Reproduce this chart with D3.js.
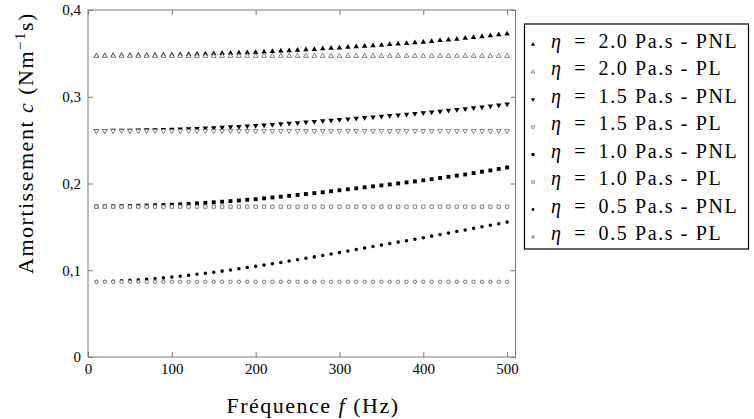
<!DOCTYPE html>
<html>
<head>
<meta charset="utf-8">
<script src="https://cdn.jsdelivr.net/npm/d3@7"></script>
<style>
  html, body { margin: 0; padding: 0; background: #fff; }
  svg { display: block; }
  text { font-family: "Liberation Serif", "DejaVu Serif", serif; fill: #000; }
</style>
</head>
<body>
<svg id="chart" width="754" height="419"></svg>
<script>
// ---------- data ----------
const freqs = [10,20,30,40,50,60,70,80,90,100,110,120,130,140,150,160,170,180,190,200,
  210,220,230,240,250,260,270,280,290,300,310,320,330,340,350,360,370,380,390,400,
  410,420,430,440,450,460,470,480,490,500];

const pnl20 = [0.3475,0.3475,0.3476,0.3477,0.3477,0.3478,0.3479,0.3480,0.3482,0.3483,
  0.3485,0.3488,0.3490,0.3493,0.3496,0.3499,0.3502,0.3505,0.3509,0.3512,
  0.3517,0.3522,0.3527,0.3532,0.3537,0.3542,0.3547,0.3553,0.3559,0.3564,
  0.3571,0.3577,0.3583,0.3590,0.3596,0.3603,0.3609,0.3616,0.3623,0.3630,
  0.3639,0.3648,0.3656,0.3665,0.3675,0.3684,0.3694,0.3704,0.3715,0.3725];

const pnl15 = [0.2610,0.2611,0.2612,0.2613,0.2614,0.2616,0.2618,0.2619,0.2621,0.2623,
  0.2627,0.2630,0.2634,0.2639,0.2643,0.2648,0.2652,0.2657,0.2662,0.2667,
  0.2673,0.2680,0.2687,0.2694,0.2700,0.2707,0.2714,0.2721,0.2729,0.2737,
  0.2744,0.2752,0.2759,0.2767,0.2775,0.2782,0.2790,0.2798,0.2806,0.2814,
  0.2824,0.2833,0.2842,0.2851,0.2860,0.2871,0.2881,0.2892,0.2903,0.2915];

const pnl10 = [0.1735,0.1736,0.1737,0.1739,0.1741,0.1744,0.1746,0.1749,0.1752,0.1755,
  0.1760,0.1765,0.1771,0.1777,0.1784,0.1790,0.1797,0.1804,0.1812,0.1819,
  0.1829,0.1839,0.1848,0.1858,0.1868,0.1879,0.1889,0.1899,0.1911,0.1922,
  0.1933,0.1944,0.1956,0.1967,0.1978,0.1989,0.2001,0.2013,0.2024,0.2037,
  0.2050,0.2064,0.2077,0.2091,0.2104,0.2120,0.2136,0.2151,0.2168,0.2185];

const pnl05 = [0.0869,0.0871,0.0874,0.0878,0.0883,0.0889,0.0896,0.0904,0.0912,0.0921,
  0.0931,0.0942,0.0953,0.0965,0.0977,0.0990,0.1003,0.1017,0.1031,0.1045,
  0.1060,0.1075,0.1090,0.1106,0.1122,0.1138,0.1154,0.1171,0.1188,0.1205,
  0.1222,0.1239,0.1256,0.1273,0.1290,0.1307,0.1324,0.1341,0.1358,0.1375,
  0.1393,0.1411,0.1429,0.1447,0.1465,0.1483,0.1501,0.1519,0.1537,0.1555];

// linear-model (PL) values: constant over frequency
const pl20 = freqs.map(() => 0.3470);
const pl15 = freqs.map(() => 0.2607);
const pl10 = freqs.map(() => 0.1733);
const pl05 = freqs.map(() => 0.0867);

const xTicks = [0, 100, 200, 300, 400, 500];
const yTicks = [0, 0.1, 0.2, 0.3, 0.4];
const yTickLabels = ["0", "0,1", "0,2", "0,3", "0,4"];

const seriesNames = ["2.0 Pa.s - PNL", "2.0 Pa.s - PL", "1.5 Pa.s - PNL", "1.5 Pa.s - PL",
                     "1.0 Pa.s - PNL", "1.0 Pa.s - PL", "0.5 Pa.s - PNL", "0.5 Pa.s - PL"];
const seriesValues = [pnl20, pl20, pnl15, pl15, pnl10, pl10, pnl05, pl05];

// ---------- styles ----------
const markerStyle = [
  {type: d3.symbolTriangle, size: 13, rot: 0,   fill: "#000", stroke: "none"},
  {type: d3.symbolTriangle, size: 10, rot: 0,   fill: "#fff", stroke: "#666"},
  {type: d3.symbolTriangle, size: 13, rot: 180, fill: "#000", stroke: "none"},
  {type: d3.symbolTriangle, size: 10, rot: 180, fill: "#fff", stroke: "#666"},
  {type: d3.symbolSquare,   size: 15, rot: 0,   fill: "#000", stroke: "none"},
  {type: d3.symbolSquare,   size: 11, rot: 0,   fill: "#fff", stroke: "#666"},
  {type: d3.symbolCircle,   size: 10, rot: 0,   fill: "#000", stroke: "none"},
  {type: d3.symbolCircle,   size: 9,  rot: 0,   fill: "#fff", stroke: "#555"}
];

const svg = d3.select("#chart");
const L = 88, R = 515.5, T = 10, B = 357;
const x = d3.scaleLinear().domain([0, 510]).range([L, R]);
const y = d3.scaleLinear().domain([0, 0.4]).range([B, T]);
const axisColor = "#7a7a7a";

// axes (ticks inward on all four sides)
const gx = svg.append("g").attr("transform", `translate(0,${B})`)
  .call(d3.axisTop(x).tickValues(xTicks).tickSize(5).tickFormat(""));
const gxl = svg.append("g").attr("transform", `translate(0,${B})`)
  .call(d3.axisBottom(x).tickValues(xTicks).tickSize(0).tickPadding(6).tickFormat(d3.format("d")));
const gxt = svg.append("g").attr("transform", `translate(0,${T})`)
  .call(d3.axisBottom(x).tickValues(xTicks).tickSize(5).tickFormat(""));
const gy = svg.append("g").attr("transform", `translate(${L},0)`)
  .call(d3.axisRight(y).tickValues(yTicks).tickSize(5).tickFormat(""));
const gyl = svg.append("g").attr("transform", `translate(${L},0)`)
  .call(d3.axisLeft(y).tickValues(yTicks).tickSize(0).tickPadding(7).tickFormat((d, i) => yTickLabels[i]));
const gyr = svg.append("g").attr("transform", `translate(${R},0)`)
  .call(d3.axisLeft(y).tickValues(yTicks).tickSize(5).tickFormat(""));

[gx, gxl, gxt, gy, gyl, gyr].forEach(g => {
  g.select(".domain").remove();
  g.selectAll("line").attr("stroke", axisColor);
  g.selectAll("text").style("font-family", "Liberation Serif").style("font-size", "15px").attr("fill", "#000");
});

// frame
svg.append("rect").attr("x", L).attr("y", T).attr("width", R - L).attr("height", B - T)
  .attr("fill", "none").attr("stroke", axisColor).attr("stroke-width", 1);

// markers
const plotG = svg.append("g");
seriesValues.forEach((vals, si) => {
  const st = markerStyle[si];
  const sym = d3.symbol().type(st.type).size(st.size);
  plotG.append("g").selectAll("path").data(vals).join("path")
    .attr("d", sym)
    .attr("transform", (d, i) => `translate(${x(freqs[i])},${y(d)}) rotate(${st.rot})`)
    .attr("fill", st.fill)
    .attr("stroke", st.stroke)
    .attr("stroke-width", 0.8);
});

// axis titles
const xt = svg.append("text").attr("x", 313).attr("y", 413).attr("text-anchor", "middle")
  .style("font-size", "22px").style("letter-spacing", "1.5px");
xt.append("tspan").text("Fréquence ");
xt.append("tspan").style("font-style", "italic").text("f");
xt.append("tspan").text(" (Hz)");

const yt = svg.append("text").attr("transform", "translate(33,143) rotate(-90)")
  .attr("text-anchor", "middle").style("font-size", "22px").style("letter-spacing", "1.5px");
yt.append("tspan").text("Amortissement ");
yt.append("tspan").style("font-style", "italic").text("c");
yt.append("tspan").text(" (Nm");
yt.append("tspan").attr("dy", -8).style("font-size", "15px").text("−1");
yt.append("tspan").attr("dy", 8).text("s)");

// legend
const lg = svg.append("g");
lg.append("rect").attr("x", 524.5).attr("y", 24).attr("width", 224).attr("height", 225)
  .attr("fill", "#fff").attr("stroke", "#000").attr("stroke-width", 1.2);
const legendScale = d3.scalePoint().domain(seriesNames).range([44.5, 237]);
seriesNames.forEach((name, si) => {
  const st = markerStyle[si];
  const cy = legendScale(name);
  lg.append("path")
    .attr("d", d3.symbol().type(st.type).size(st.size * 0.6)())
    .attr("transform", `translate(533,${cy}) rotate(${st.rot})`)
    .attr("fill", st.fill).attr("stroke", st.stroke).attr("stroke-width", 0.7);
  const t = lg.append("text").attr("x", 551).attr("y", cy + 3).style("font-size", "20px")
    .style("letter-spacing", "1.6px");
  t.append("tspan").style("font-style", "italic").text("η");
  t.append("tspan").text("\u2002=\u2002" + name);
});
</script>
</body>
</html>
